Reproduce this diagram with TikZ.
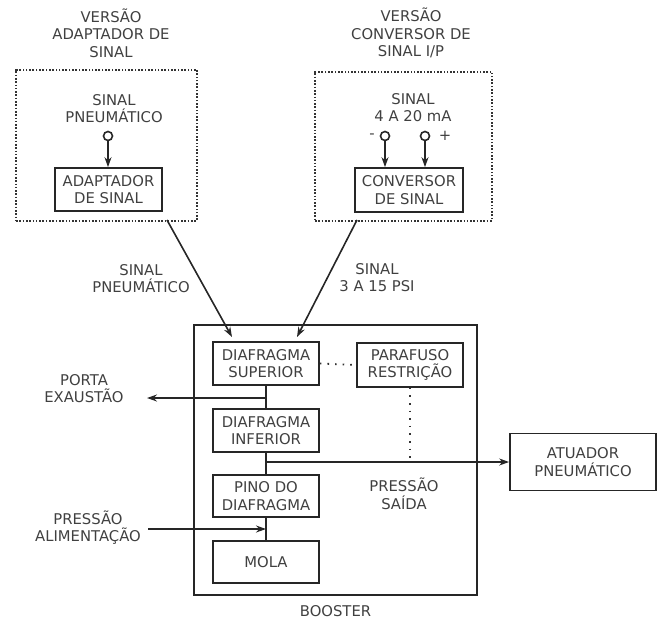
\documentclass[tikz,border=0pt]{standalone}
\usepackage{fontspec}
\setmainfont{DejaVu Sans}
\usetikzlibrary{arrows.meta}
\begin{document}
\begin{tikzpicture}[x=1pt,y=-1pt,
  every node/.style={font=\fontsize{14.8}{17.5}\selectfont, text=black!75, align=center, inner sep=0pt},
  blk/.style={draw=black!85, line width=1.7pt, fill=white},
  dotbox/.style={draw=black!80, line width=2pt, dash pattern=on 1.6pt off 1.7pt},
  port/.style={circle, draw=black!85, line width=1.6pt, minimum size=9pt, inner sep=0pt},
  arr/.style={draw=black!85, line width=1.6pt, -{Stealth[length=10pt,width=7pt]}},
  wire/.style={draw=black!85, line width=1.6pt},
  dotline/.style={draw=black!80, line width=1.8pt, dash pattern=on 1.6pt off 6pt}]
\useasboundingbox (0,0) rectangle (662,622);
% left version
\node (tl) at (111,33) {VERSÃO\\ADAPTADOR DE\\SINAL};
\node[dotbox, minimum width=181pt, minimum height=151pt] (vl) at (106.5,145) {};
\node (sl) at (114,108.5) {SINAL\\PNEUMÁTICO};
\node[port] (cl) at (108,136) {};
\node[blk, minimum width=107pt, minimum height=43pt] (ad) at (108.5,189.5) {ADAPTADOR\\DE SINAL};
\draw[arr] (cl.south) -- (cl.south |- ad.north);
% right version
\node (tr) at (411,33) {VERSÃO\\CONVERSOR DE\\SINAL I/P};
\node[dotbox, minimum width=177pt, minimum height=149pt] (vr) at (403.5,146) {};
\node (sr) at (413,107.5) {SINAL\\4 A 20 mA};
\node[port] (cm) at (385,136) {};
\node[port] (cp) at (425,136) {};
\node (mi) at (372,136) {-};
\node (pl) at (445,136) {+};
\node[blk, minimum width=108pt, minimum height=44pt] (cv) at (409,190) {CONVERSOR\\DE SINAL};
\draw[arr] (cm.south) -- (cm.south |- cv.north);
\draw[arr] (cp.south) -- (cp.south |- cv.north);
% booster
\node[blk, minimum width=283pt, minimum height=270pt] (bo) at (335.5,460) {};
\node (bl) at (335.5,611) {BOOSTER};
\node[blk, minimum width=106pt, minimum height=43pt] (ds) at (266,363.5) {DIAFRAGMA\\SUPERIOR};
\node[blk, minimum width=106pt, minimum height=44pt] (pr) at (410,365) {PARAFUSO\\RESTRIÇÃO};
\node[blk, minimum width=106pt, minimum height=43pt] (di) at (266,430.5) {DIAFRAGMA\\INFERIOR};
\node[blk, minimum width=106pt, minimum height=42pt] (pd) at (266,496) {PINO DO\\DIAFRAGMA};
\node[blk, minimum width=106pt, minimum height=42pt] (mo) at (266,562) {MOLA};
\node[blk, minimum width=146pt, minimum height=57pt] (at) at (583,462) {ATUADOR\\PNEUMÁTICO};
% signal inputs
\coordinate (a1) at (167,220);
\coordinate (e1) at (232,337);
\coordinate (a2) at (357,220);
\coordinate (e2) at (297,337);
\draw[arr] (a1) -- (e1);
\draw[arr] (a2) -- (e2);
\node (ls1) at (141,278.5) {SINAL\\PNEUMÁTICO};
\node (ls2) at (377,277.5) {SINAL\\3 A 15 PSI};
% internal connections
\draw[wire] (ds.south) -- (di.north);
\draw[wire] (di.south) -- (pd.north);
\draw[wire] (pd.south) -- (mo.north);
\coordinate (ex) at (147,398);
\draw[arr] (ds.south |- ex) -- (ex);
\node (lex) at (84,388.5) {PORTA\\EXAUSTÃO};
\draw[arr] (di.south |- at.west) -- (at.west);
\node (lps) at (404,494) {PRESSÃO\\SAÍDA};
\coordinate (su) at (148,529);
\draw[arr] (su) -- (su -| pd.south);
\node (lsu) at (88,527.5) {PRESSÃO\\ALIMENTAÇÃO};
\draw[dotline] (ds.east) -- (pr.west);
\draw[dotline] (pr.south) -- (pr.south |- at.west);
\end{tikzpicture}
\end{document}
